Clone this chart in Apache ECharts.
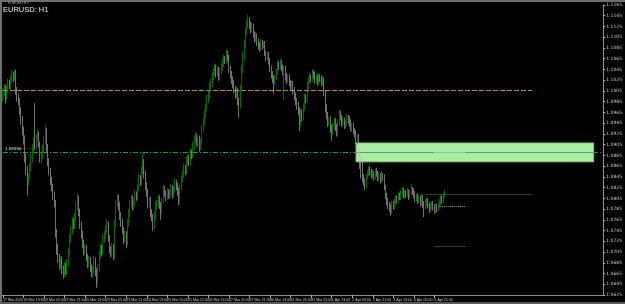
<!DOCTYPE html>
<html>
<head>
<meta charset="utf-8">
<script src="https://cdn.jsdelivr.net/npm/echarts@6/dist/echarts.min.js"></script>
<style>
  html, body { margin: 0; padding: 0; background: #000; }
  #chart { width: 625px; height: 304px; }
</style>
</head>
<body>
<div id="chart"></div>
<script>
var chart = echarts.init(document.getElementById("chart"));

// hourly EURUSD bars, 17 Mar 2020 21:00 onwards
var firstOpen = 1.0995;
var closes = [
  1.1002, 1.1010, 1.0995, 1.1008, 1.1020, 1.1015, 1.1028, 1.1035, 1.1030, 1.1038,
  1.1005, 1.0992, 1.0985, 1.0968, 1.0950, 1.0930, 1.0915, 1.0880, 1.0858, 1.0835,
  1.0845, 1.0862, 1.0880, 1.0898, 1.0910, 1.0902, 1.0918, 1.0925, 1.0905, 1.0880,
  1.0885, 1.0898, 1.0912, 1.0930, 1.0900, 1.0872, 1.0855, 1.0838, 1.0825, 1.0810,
  1.0795, 1.0740, 1.0712, 1.0695, 1.0680, 1.0690, 1.0672, 1.0665, 1.0678, 1.0670,
  1.0685, 1.0705, 1.0730, 1.0745, 1.0762, 1.0755, 1.0770, 1.0790, 1.0805, 1.0780,
  1.0755, 1.0738, 1.0720, 1.0705, 1.0712, 1.0695, 1.0682, 1.0690, 1.0675, 1.0665,
  1.0672, 1.0690, 1.0668, 1.0652, 1.0675, 1.0700, 1.0712, 1.0705, 1.0730, 1.0738,
  1.0748, 1.0758, 1.0730, 1.0710, 1.0702, 1.0715, 1.0698, 1.0760, 1.0795, 1.0805,
  1.0790, 1.0772, 1.0760, 1.0745, 1.0730, 1.0738, 1.0725, 1.0760, 1.0778, 1.0795,
  1.0805, 1.0790, 1.0798, 1.0812, 1.0808, 1.0825, 1.0842, 1.0835, 1.0858, 1.0870,
  1.0850, 1.0828, 1.0815, 1.0795, 1.0800, 1.0778, 1.0770, 1.0755, 1.0772, 1.0790,
  1.0795, 1.0805, 1.0792, 1.0782, 1.0800, 1.0822, 1.0815, 1.0808, 1.0818, 1.0810,
  1.0815, 1.0825, 1.0812, 1.0822, 1.0835, 1.0828, 1.0818, 1.0800, 1.0825, 1.0842,
  1.0850, 1.0862, 1.0855, 1.0875, 1.0880, 1.0872, 1.0890, 1.0885, 1.0902, 1.0915,
  1.0920, 1.0908, 1.0915, 1.0900, 1.0910, 1.0935, 1.0948, 1.0962, 1.0975, 1.0990,
  1.0998, 1.1012, 1.1020, 1.1032, 1.1040, 1.1048, 1.1038, 1.1045, 1.1030, 1.1042,
  1.1050, 1.1058, 1.1065, 1.1062, 1.1075, 1.1068, 1.1045, 1.1035, 1.1025, 1.1018,
  1.1008, 1.0998, 1.1005, 1.0985, 1.0978, 1.1010, 1.1045, 1.1070, 1.1092, 1.1115,
  1.1130, 1.1138, 1.1128, 1.1120, 1.1125, 1.1110, 1.1102, 1.1108, 1.1095, 1.1090,
  1.1085, 1.1095, 1.1088, 1.1092, 1.1075, 1.1068, 1.1072, 1.1060, 1.1045, 1.1035,
  1.1028, 1.1022, 1.1030, 1.1040, 1.1055, 1.1050, 1.1058, 1.1048, 1.1040, 1.1045,
  1.1030, 1.1025, 1.1030, 1.1020, 1.1012, 1.1018, 1.1005, 1.0995, 1.0985, 1.0978,
  1.0968, 1.0958, 1.0965, 1.0955, 1.0975, 1.0992, 1.0990, 1.1015, 1.1025, 1.1030,
  1.1028, 1.1038, 1.1035, 1.1025, 1.1030, 1.1022, 1.1032, 1.1028, 1.1020, 1.1025,
  1.1000, 1.0972, 1.0960, 1.0945, 1.0950, 1.0935, 1.0930, 1.0940, 1.0948, 1.0938,
  1.0928, 1.0945, 1.0962, 1.0955, 1.0945, 1.0950, 1.0940, 1.0945, 1.0955, 1.0950,
  1.0945, 1.0935, 1.0940, 1.0930, 1.0925, 1.0912, 1.0918, 1.0890, 1.0868, 1.0850,
  1.0842, 1.0835, 1.0828, 1.0845, 1.0852, 1.0860, 1.0855, 1.0848, 1.0852, 1.0845,
  1.0855, 1.0850, 1.0842, 1.0848, 1.0838, 1.0850, 1.0845, 1.0825, 1.0810, 1.0800,
  1.0792, 1.0788, 1.0780, 1.0795, 1.0790, 1.0798, 1.0805, 1.0800, 1.0812, 1.0808,
  1.0815, 1.0820, 1.0810, 1.0815, 1.0812, 1.0818, 1.0808, 1.0815, 1.0822, 1.0818,
  1.0812, 1.0805, 1.0808, 1.0800, 1.0805, 1.0798, 1.0808, 1.0795, 1.0790, 1.0798,
  1.0800, 1.0792, 1.0785, 1.0790, 1.0795, 1.0788, 1.0782, 1.0790, 1.0785, 1.0792,
  1.0798, 1.0805, 1.0800, 1.0810, 1.0815
];
var highs = [
  1.1010, 1.1018, 1.1016, 1.1015, 1.1027, 1.1026, 1.1034, 1.1044, 1.1040, 1.1045,
  1.1044, 1.1012, 1.1000, 1.0992, 1.0975, 1.0958, 1.0938, 1.0922, 1.0888, 1.0865,
  1.0852, 1.0870, 1.0887, 1.0906, 1.0918, 1.0982, 1.0925, 1.0932, 1.0930, 1.0910,
  1.0892, 1.0905, 1.0920, 1.0942, 1.0936, 1.0906, 1.0880, 1.0862, 1.0845, 1.0832,
  1.0818, 1.0802, 1.0748, 1.0720, 1.0702, 1.0698, 1.0697, 1.0680, 1.0686, 1.0685,
  1.0692, 1.0712, 1.0738, 1.0752, 1.0770, 1.0768, 1.0778, 1.0798, 1.0815, 1.0810,
  1.0786, 1.0762, 1.0745, 1.0728, 1.0720, 1.0718, 1.0702, 1.0698, 1.0696, 1.0682,
  1.0680, 1.0698, 1.0695, 1.0675, 1.0682, 1.0708, 1.0720, 1.0718, 1.0738, 1.0745,
  1.0755, 1.0765, 1.0762, 1.0736, 1.0716, 1.0722, 1.0720, 1.0766, 1.0802, 1.0812,
  1.0812, 1.0798, 1.0780, 1.0768, 1.0752, 1.0745, 1.0744, 1.0766, 1.0785, 1.0802,
  1.0812, 1.0810, 1.0805, 1.0820, 1.0818, 1.0832, 1.0850, 1.0848, 1.0865, 1.0890,
  1.0878, 1.0856, 1.0835, 1.0822, 1.0806, 1.0808, 1.0785, 1.0776, 1.0780, 1.0798,
  1.0802, 1.0812, 1.0810, 1.0798, 1.0806, 1.0830, 1.0828, 1.0820, 1.0825, 1.0822,
  1.0822, 1.0832, 1.0830, 1.0828, 1.0842, 1.0840, 1.0834, 1.0825, 1.0830, 1.0848,
  1.0858, 1.0870, 1.0868, 1.0882, 1.0888, 1.0886, 1.0898, 1.0895, 1.0910, 1.0922,
  1.0928, 1.0926, 1.0920, 1.0922, 1.0916, 1.0942, 1.0955, 1.0970, 1.0982, 1.0998,
  1.1005, 1.1020, 1.1028, 1.1040, 1.1048, 1.1056, 1.1054, 1.1052, 1.1050, 1.1048,
  1.1056, 1.1065, 1.1072, 1.1070, 1.1082, 1.1080, 1.1072, 1.1052, 1.1042, 1.1032,
  1.1025, 1.1015, 1.1012, 1.1010, 1.0992, 1.1016, 1.1052, 1.1078, 1.1100, 1.1122,
  1.1138, 1.1147, 1.1142, 1.1134, 1.1132, 1.1130, 1.1116, 1.1115, 1.1112, 1.1102,
  1.1096, 1.1102, 1.1100, 1.1098, 1.1098, 1.1080, 1.1078, 1.1078, 1.1066, 1.1052,
  1.1042, 1.1034, 1.1036, 1.1046, 1.1062, 1.1060, 1.1065, 1.1062, 1.1054, 1.1052,
  1.1052, 1.1038, 1.1036, 1.1036, 1.1026, 1.1024, 1.1024, 1.1012, 1.1002, 1.0992,
  1.0985, 1.0975, 1.0972, 1.0970, 1.0982, 1.1000, 1.0998, 1.1022, 1.1032, 1.1038,
  1.1036, 1.1045, 1.1044, 1.1040, 1.1036, 1.1035, 1.1038, 1.1036, 1.1034, 1.1032,
  1.1030, 1.1006, 1.0980, 1.0966, 1.0956, 1.0958, 1.0942, 1.0946, 1.0955, 1.0954,
  1.0944, 1.0952, 1.0970, 1.0968, 1.0960, 1.0956, 1.0955, 1.0950, 1.0962, 1.0960,
  1.0958, 1.0952, 1.0946, 1.0946, 1.0936, 1.0932, 1.0924, 1.0925, 1.0896, 1.0885,
  1.0878, 1.0850, 1.0842, 1.0850, 1.0858, 1.0866, 1.0864, 1.0860, 1.0858, 1.0856,
  1.0860, 1.0862, 1.0856, 1.0854, 1.0852, 1.0856, 1.0852, 1.0850, 1.0830, 1.0815,
  1.0806, 1.0798, 1.0794, 1.0800, 1.0800, 1.0804, 1.0812, 1.0810, 1.0818, 1.0815,
  1.0820, 1.0826, 1.0825, 1.0820, 1.0820, 1.0824, 1.0822, 1.0820, 1.0832, 1.0826,
  1.0824, 1.0818, 1.0814, 1.0814, 1.0810, 1.0810, 1.0814, 1.0812, 1.0800, 1.0804,
  1.0806, 1.0806, 1.0798, 1.0796, 1.0800, 1.0800, 1.0794, 1.0796, 1.0795, 1.0798,
  1.0804, 1.0812, 1.0810, 1.0816, 1.0820
];
var lows = [
  1.0985, 1.0995, 1.0982, 1.0988, 1.1000, 1.1008, 1.1008, 1.1020, 1.1022, 1.1024,
  1.0998, 1.0985, 1.0978, 1.0960, 1.0942, 1.0922, 1.0905, 1.0872, 1.0848, 1.0810,
  1.0828, 1.0840, 1.0855, 1.0872, 1.0892, 1.0895, 1.0896, 1.0912, 1.0900, 1.0872,
  1.0870, 1.0878, 1.0890, 1.0905, 1.0892, 1.0865, 1.0848, 1.0830, 1.0818, 1.0802,
  1.0788, 1.0732, 1.0700, 1.0685, 1.0672, 1.0675, 1.0664, 1.0655, 1.0658, 1.0662,
  1.0662, 1.0678, 1.0698, 1.0722, 1.0738, 1.0748, 1.0748, 1.0762, 1.0782, 1.0772,
  1.0748, 1.0730, 1.0712, 1.0698, 1.0700, 1.0688, 1.0675, 1.0676, 1.0668, 1.0658,
  1.0658, 1.0665, 1.0660, 1.0638, 1.0645, 1.0668, 1.0692, 1.0698, 1.0700, 1.0722,
  1.0730, 1.0740, 1.0724, 1.0702, 1.0695, 1.0696, 1.0690, 1.0692, 1.0752, 1.0788,
  1.0782, 1.0765, 1.0752, 1.0738, 1.0720, 1.0722, 1.0712, 1.0718, 1.0752, 1.0770,
  1.0788, 1.0782, 1.0784, 1.0790, 1.0800, 1.0802, 1.0818, 1.0828, 1.0830, 1.0850,
  1.0842, 1.0820, 1.0808, 1.0786, 1.0788, 1.0770, 1.0762, 1.0745, 1.0748, 1.0765,
  1.0784, 1.0788, 1.0785, 1.0765, 1.0776, 1.0795, 1.0808, 1.0800, 1.0802, 1.0804,
  1.0804, 1.0808, 1.0805, 1.0806, 1.0815, 1.0820, 1.0810, 1.0792, 1.0795, 1.0818,
  1.0835, 1.0844, 1.0848, 1.0850, 1.0868, 1.0865, 1.0866, 1.0878, 1.0880, 1.0895,
  1.0908, 1.0902, 1.0900, 1.0892, 1.0895, 1.0905, 1.0928, 1.0940, 1.0955, 1.0968,
  1.0982, 1.0990, 1.1005, 1.1012, 1.1025, 1.1033, 1.1030, 1.1032, 1.1024, 1.1025,
  1.1036, 1.1042, 1.1050, 1.1055, 1.1056, 1.1060, 1.1038, 1.1028, 1.1018, 1.1010,
  1.1000, 1.0990, 1.0992, 1.0978, 1.0955, 1.0972, 1.1005, 1.1038, 1.1062, 1.1085,
  1.1108, 1.1122, 1.1120, 1.1112, 1.1114, 1.1104, 1.1095, 1.1096, 1.1088, 1.1082,
  1.1078, 1.1080, 1.1082, 1.1084, 1.1070, 1.1060, 1.1062, 1.1054, 1.1040, 1.1028,
  1.1020, 1.1000, 1.1016, 1.1025, 1.1035, 1.1044, 1.1045, 1.1042, 1.1034, 1.0988,
  1.1024, 1.1018, 1.1020, 1.1014, 1.1005, 1.1008, 1.0998, 1.0988, 1.0978, 1.0970,
  1.0960, 1.0930, 1.0940, 1.0948, 1.0950, 1.0968, 1.0982, 1.0985, 1.1008, 1.1018,
  1.1020, 1.1022, 1.1028, 1.1018, 1.1020, 1.1015, 1.1016, 1.1022, 1.1014, 1.1015,
  1.0995, 1.0965, 1.0952, 1.0938, 1.0940, 1.0928, 1.0912, 1.0924, 1.0934, 1.0930,
  1.0920, 1.0922, 1.0940, 1.0950, 1.0938, 1.0940, 1.0934, 1.0935, 1.0940, 1.0944,
  1.0938, 1.0930, 1.0928, 1.0924, 1.0918, 1.0906, 1.0905, 1.0884, 1.0860, 1.0842,
  1.0835, 1.0828, 1.0820, 1.0824, 1.0840, 1.0846, 1.0848, 1.0842, 1.0842, 1.0838,
  1.0840, 1.0845, 1.0836, 1.0838, 1.0832, 1.0834, 1.0838, 1.0820, 1.0804, 1.0792,
  1.0785, 1.0780, 1.0772, 1.0776, 1.0784, 1.0784, 1.0792, 1.0795, 1.0796, 1.0802,
  1.0802, 1.0810, 1.0805, 1.0804, 1.0806, 1.0808, 1.0802, 1.0804, 1.0810, 1.0812,
  1.0806, 1.0798, 1.0800, 1.0794, 1.0796, 1.0790, 1.0792, 1.0788, 1.0770, 1.0784,
  1.0790, 1.0786, 1.0778, 1.0780, 1.0784, 1.0782, 1.0776, 1.0778, 1.0778, 1.0780,
  1.0786, 1.0792, 1.0795, 1.0796, 1.0806
];

// horizontal objects drawn on the chart
var dailyLevel = 1.1007;      // orange dashed
var pivotLevel = 1.08906;     // green dash-dot
var zoneTop = 1.0908;
var zoneBottom = 1.0873;
var markerLevels = [1.0813, 1.0791, 1.0715, 1.0890];

var yMin = 1.0625, yMax = 1.1165, yStep = 0.0020;
var totalSlots = 468;

var months = ['Jan','Feb','Mar','Apr','May','Jun','Jul','Aug','Sep','Oct','Nov','Dec'];
var times = [];
var t = Date.UTC(2020, 2, 17, 21);
while (times.length < closes.length) {
    var d = new Date(t);
    var wd = d.getUTCDay();
    if (wd !== 0 && wd !== 6) {
        var hh = ('0' + d.getUTCHours()).slice(-2);
        times.push(times.length === 0
            ? d.getUTCDate() + ' ' + months[d.getUTCMonth()] + ' ' + d.getUTCFullYear()
            : d.getUTCDate() + ' ' + months[d.getUTCMonth()] + ' ' + hh + ':00');
    }
    t += 3600000;
}
var categories = times.slice();
while (categories.length < totalSlots) categories.push('');

var ohlc = closes.map(function (c, i) {
    var o = i === 0 ? firstOpen : closes[i - 1];
    return [o, c, lows[i], highs[i]];
});

function showTick(index, value) {
    return value !== '' && index % 16 === 0;
}

var lastClose = closes[closes.length - 1];

option = {
    backgroundColor: '#000000',
    animation: false,
    grid: { left: 2, right: 15, top: 5, bottom: 9 },
    xAxis: {
        type: 'category',
        data: categories,
        boundaryGap: true,
        axisLine: { lineStyle: { color: '#8c8c8c', width: 1 } },
        axisTick: { show: true, interval: showTick, alignWithLabel: true, length: 3,
                    lineStyle: { color: '#b0b0b0' } },
        axisLabel: { interval: showTick, align: 'left', margin: 3, fontSize: 3.6,
                     color: '#c8c8c8', fontFamily: 'Liberation Sans', hideOverlap: false,
                     showMinLabel: true },
        splitLine: { show: false }
    },
    yAxis: {
        type: 'value',
        position: 'right',
        min: yMin,
        max: yMax,
        interval: yStep,
        axisLine: { show: true, lineStyle: { color: '#8c8c8c' } },
        axisTick: { show: true, length: 2, lineStyle: { color: '#b0b0b0' } },
        axisLabel: { fontSize: 4.5, color: '#c8c8c8', margin: 3, fontFamily: 'DejaVu Sans',
                     formatter: function (v) { return v.toFixed(4); } },
        splitLine: { show: false }
    },
    graphic: [
        { type: 'rect', shape: { x: 0, y: 0, width: 625, height: 2 }, style: { fill: '#6e6e6e' }, silent: true },
        { type: 'rect', shape: { x: 0, y: 0, width: 2, height: 304 }, style: { fill: '#6e6e6e' }, silent: true },
        { type: 'rect', shape: { x: 0, y: 302, width: 625, height: 2 }, style: { fill: '#5a5a5a' }, silent: true },
        { type: 'text', left: 8, top: 1, style: { text: 'EURUSD,H1', fontSize: 3.5, fill: '#b0b0b0', fontFamily: 'DejaVu Sans' } },
        { type: 'text', left: 3, top: 6, style: { text: 'EURUSD: H1', fontSize: 7.5, fill: '#e8e8e8', fontFamily: 'Liberation Sans' } }
    ],
    series: [
        {
            name: 'zone',
            type: 'line',
            data: [],
            z: 1,
            markArea: {
                silent: true,
                itemStyle: { color: '#a6f0a0', borderColor: '#7ccf78', borderWidth: 1 },
                data: [[{ coord: [275, zoneTop] }, { coord: [460, zoneBottom] }]]
            }
        },
        {
            name: 'levels',
            type: 'line',
            data: [],
            z: 3,
            markLine: {
                silent: true,
                symbol: 'none',
                label: { show: false },
                data: [
                    [{ coord: [0, dailyLevel], lineStyle: { color: '#c8861c', type: [5, 2], width: 1 } },
                     { coord: [412, dailyLevel] }],
                    [{ coord: [0, pivotLevel], lineStyle: { color: '#00b000', type: [5, 2, 1, 2], width: 1 },
                       label: { show: true, position: 'insideStartTop', distance: [2, 1], fontSize: 4,
                                color: '#e0e0e0', fontFamily: 'DejaVu Sans',
                                formatter: pivotLevel.toFixed(5) + ' - - - ·' } },
                     { coord: [467, pivotLevel] }],
                    [{ coord: [275, pivotLevel], lineStyle: { color: '#6a93a8', type: 'solid', width: 1 } },
                     { coord: [460, pivotLevel] }],
                    [{ coord: [329, markerLevels[0]], lineStyle: { color: '#6f7380', type: [1, 1], width: 1 } },
                     { coord: [412, markerLevels[0]] }],
                    [{ coord: [339, markerLevels[1]], lineStyle: { color: '#9a9a2a', type: [1, 1], width: 1 } },
                     { coord: [360, markerLevels[1]] }],
                    [{ coord: [336, markerLevels[2]], lineStyle: { color: '#4c7896', type: [1, 1], width: 1 } },
                     { coord: [360, markerLevels[2]] }],
                    [{ coord: [336, markerLevels[3] + 0.0001], lineStyle: { color: '#d0e8d0', type: [1, 1], width: 1 } },
                     { coord: [360, markerLevels[3] + 0.0001] }]
                ]
            }
        },
        {
            name: 'EURUSD',
            type: 'candlestick',
            data: ohlc,
            z: 5,
            barWidth: 1,
            itemStyle: {
                color: '#00b400',
                color0: '#d4d4d4',
                borderColor: '#00b400',
                borderColor0: '#bdbdbd',
                borderWidth: 0.6
            },
            markLine: {
                silent: true,
                symbol: 'none',
                lineStyle: { opacity: 0 },
                data: [{ yAxis: lastClose }],
                label: { show: true, position: 'end', distance: 1, fontSize: 4.5,
                         color: '#000', backgroundColor: '#ffffff', padding: [1, 1],
                         fontFamily: 'DejaVu Sans',
                         formatter: function (p) { return p.value.toFixed(4); } }
            }
        }
    ]
};

chart.setOption(option);
</script>
</body>
</html>
